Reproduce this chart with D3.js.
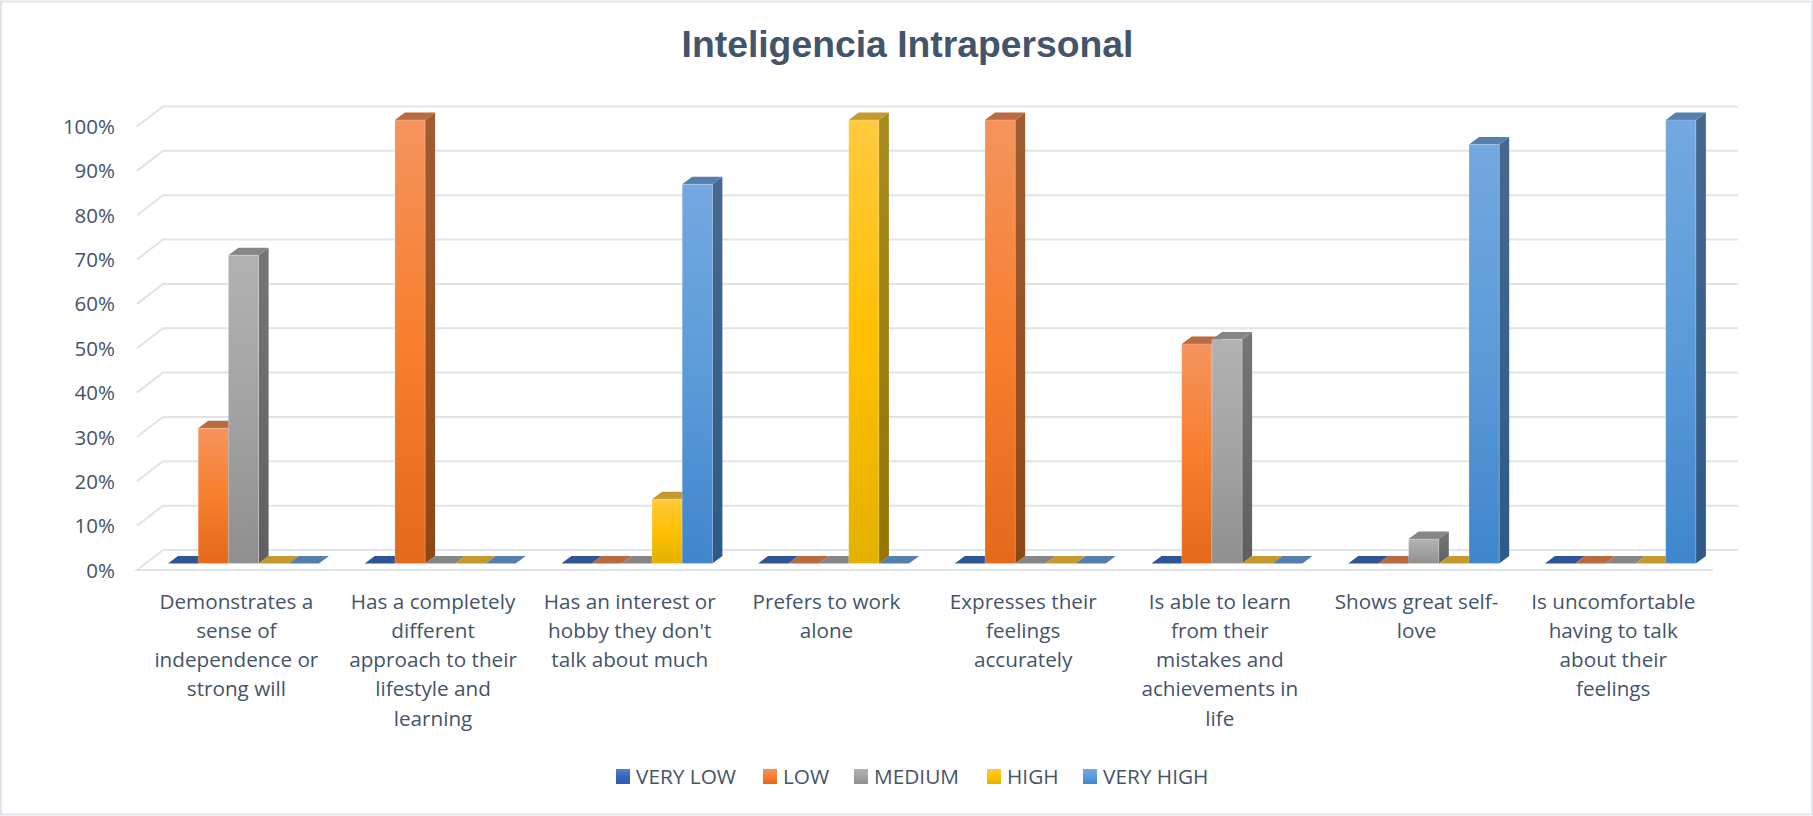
<!DOCTYPE html>
<html><head><meta charset="utf-8">
<script src="https://cdnjs.cloudflare.com/ajax/libs/d3/7.8.5/d3.min.js"></script>
<style>html,body{margin:0;padding:0;background:#fff;overflow:hidden}svg{display:block}text{font-family:"Open Sans",sans-serif;fill:#44546a}</style>
</head><body><svg id="c" width="1813" height="816"></svg>
<script>
const title = "Inteligencia Intrapersonal";
const categories = [
 ["Demonstrates a","sense of","independence or","strong will"],
 ["Has a completely","different","approach to their","lifestyle and","learning"],
 ["Has an interest or","hobby they don't","talk about much"],
 ["Prefers to work","alone"],
 ["Expresses their","feelings","accurately"],
 ["Is able to learn","from their","mistakes and","achievements in","life"],
 ["Shows great self-","love"],
 ["Is uncomfortable","having to talk","about their","feelings"]
];
const seriesNames = ["VERY LOW","LOW","MEDIUM","HIGH","VERY HIGH"];
const veryLow  = [0,0,0,0,0,0,0,0];
const low      = [30.5,100,0,0,100,49.5,0,0];
const medium   = [69.5,0,0,0,0,50.5,5.5,0];
const high     = [0,0,14.5,100,0,0,0,0];
const veryHigh = [0,0,85.5,0,0,0,94.5,100];
const seriesValues = [veryLow,low,medium,high,veryHigh];
const yTicks = [0,10,20,30,40,50,60,70,80,90,100];
const palette = [
 {f:["#5b7fcf","#3566bd","#2e5fb3"],s:["#2d4f8c","#223f75"],t:"#2f5597"},
 {f:["#f5935e","#f77f2d","#e4691b"],s:["#a05c33","#8f4712"],t:"#b96a3f"},
 {f:["#b2b2b2","#a3a3a3","#8f8f8f"],s:["#767676","#5f5f5f"],t:"#868686"},
 {f:["#ffca3e","#ffc000","#e3b100"],s:["#a88c20","#957400"],t:"#c49a2f"},
 {f:["#74a8e0","#5b9bd9","#3f86cc"],s:["#47698f","#2d5a87"],t:"#5580ad"}
];
const W=1813,H=816;
const svg=d3.select("#c");
const defs=svg.append("defs");
palette.forEach((p,i)=>{
  const a=defs.append("linearGradient").attr("id","f"+i).attr("x1",0).attr("y1",0).attr("x2",0).attr("y2",1);
  p.f.forEach((c,j)=>a.append("stop").attr("offset",j/2).attr("stop-color",c));
  const b=defs.append("linearGradient").attr("id","s"+i).attr("x1",0).attr("y1",0).attr("x2",0).attr("y2",1);
  p.s.forEach((c,j)=>b.append("stop").attr("offset",j).attr("stop-color",c));
});
// frame
svg.append("rect").attr("x",1).attr("y",1.5).attr("width",W-2).attr("height",H-3)
  .attr("fill","#fff").attr("stroke","#e1e6ed").attr("stroke-width",2);
// title
svg.append("text").attr("x",907.5).attr("y",57).attr("text-anchor","middle")
  .style("font-family","'Liberation Sans',Arial,sans-serif").style("font-weight",700)
  .style("font-size","37.3px").text(title);

// scales
const y=d3.scaleLinear().domain([0,100]).range([563.5,120]);
const x0=d3.scaleBand().domain(d3.range(categories.length)).range([137,1710.6]);
const groupW=151;
const x1=d3.scaleBand().domain(d3.range(seriesNames.length)).range([0,groupW]);
const groupLeft=i=>x0(i)+31;
const wallDx=26,wallDy=20, floorInset=6.5, bdx=10, bdy=7.5, gridRight=1738, floorRight=1713;
const gridFront=v=>y(v)+floorInset, gridBack=v=>y(v)+floorInset-wallDy;

// grid
const grid=svg.append("g").attr("fill","none").attr("stroke","#dfe3ea").attr("stroke-width",2);
yTicks.forEach(v=>{
  const pts=v===0?[[floorRight,gridFront(v)],[137,gridFront(v)],[137+wallDx,gridBack(v)],[gridRight,gridBack(v)]]
                 :[[137,gridFront(v)],[137+wallDx,gridBack(v)],[gridRight,gridBack(v)]];
  grid.append("path").attr("d",d3.line()(pts));
});

// y axis labels
const yAxis=d3.axisLeft(d3.scaleLinear().domain([0,100]).range([gridFront(0),gridFront(100)]))
  .tickValues(yTicks).tickSize(0).tickPadding(0).tickFormat(d=>d+"%");
const ya=svg.append("g").attr("transform","translate(115,0.5)").call(yAxis);
ya.select(".domain").remove();
ya.selectAll("text").style("font-family","'Open Sans',sans-serif").style("font-size","20.5px").attr("fill","#44546a");

// bars
const bars=svg.append("g");
categories.forEach((c,i)=>{
  seriesValues.forEach((vals,s)=>{
    const v=vals[i], L=groupLeft(i)+x1(s), w=x1.bandwidth(), yt=y(v), yb=y(0), g=bars.append("g");
    const line=d3.line();
    if(v>0){
      g.append("path").attr("d",line([[L+w,yt],[L+w+bdx,yt-bdy],[L+w+bdx,yb-bdy],[L+w,yb]])+"Z").attr("fill",`url(#s${s})`);
    }
    g.append("path").attr("d",line([[L,yt],[L+bdx,yt-bdy],[L+w+bdx,yt-bdy],[L+w,yt]])+"Z").attr("fill",palette[s].t);
    if(v>0){
      g.append("rect").attr("x",L).attr("y",yt).attr("width",w).attr("height",yb-yt)
       .attr("fill",`url(#f${s})`).attr("stroke","#fff").attr("stroke-opacity",.22).attr("stroke-width",1);
    }
  });
});

// category labels
const cats=svg.append("g").attr("text-anchor","middle").style("font-size","20.7px");
categories.forEach((lines,i)=>{
  const t=cats.append("text").attr("transform",`translate(${x0(i)+x0.bandwidth()/2+1},0)`);
  lines.forEach((l,j)=>t.append("tspan").attr("x",0).attr("y",608.5+j*29.3).text(l));
});

// legend
const legX=[616,763,854,987,1083];
const leg=svg.append("g").style("font-size","20.8px");
seriesNames.forEach((n,i)=>{
  leg.append("rect").attr("x",legX[i]).attr("y",769).attr("width",14).attr("height",15).attr("fill",`url(#f${i})`);
  leg.append("text").attr("x",legX[i]+20).attr("y",784).text(n);
});
</script></body></html>
